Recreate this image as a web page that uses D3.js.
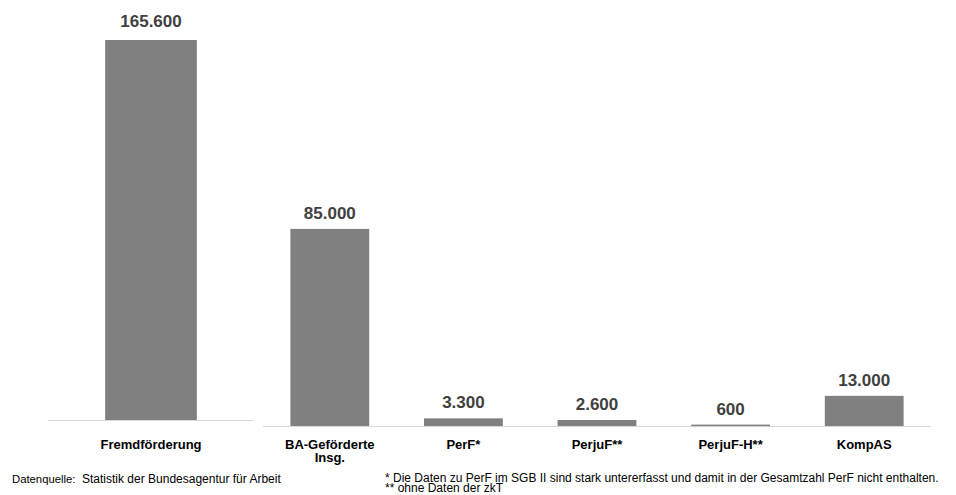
<!DOCTYPE html>
<html>
<head>
<meta charset="utf-8">
<script src="https://cdn.jsdelivr.net/npm/d3@7"></script>
<style>
  html, body { margin: 0; padding: 0; background: #fff; }
  svg { display: block; font-family: "Liberation Sans", Arial, sans-serif; }
</style>
</head>
<body>
<svg id="chart" width="956" height="495"></svg>
<script>
// Totals panel (left) and breakdown panel (right)
const totalCategories = ["Fremdförderung"];
const totalValues = [165600];

const detailCategories = ["BA-Geförderte\nInsg.", "PerF*", "PerjuF**", "PerjuF-H**", "KompAS"];
const detailValues = [85000, 3300, 2600, 600, 13000];

const sourceLabel = "Datenquelle:";
const sourceText = "Statistik der Bundesagentur für Arbeit";
const footnotes = [
  "* Die Daten zu PerF im SGB II sind stark untererfasst und damit in der Gesamtzahl PerF nicht enthalten.",
  "** ohne Daten der zkT"
];

const fmt = v => d3.format(",")(v).replace(/,/g, ".");

const svg = d3.select("#chart");
const barColor = "#808080";
const axisColor = "#d9d9d9";
const valueColor = "#404040";

function drawPanel(categories, values, x0, x1, baseline, topForMax, padding, labelGap) {
  const data = categories.map((c, i) => ({ cat: c, value: values[i] }));
  const x = d3.scaleBand().domain(categories).range([x0, x1]).paddingInner(padding).paddingOuter(padding / 2);
  const y = d3.scaleLinear().domain([0, 165600]).range([baseline, topForMax]);
  const g = svg.append("g");

  g.append("line")
    .attr("x1", x0).attr("x2", x1)
    .attr("y1", baseline + 0.5).attr("y2", baseline + 0.5)
    .attr("stroke", axisColor).attr("stroke-width", 1);

  g.selectAll("rect.bar").data(data).join("rect")
    .attr("class", "bar")
    .attr("x", d => x(d.cat))
    .attr("width", x.bandwidth())
    .attr("y", d => y(d.value))
    .attr("height", d => Math.max(1.5, baseline - y(d.value)))
    .attr("fill", barColor);

  g.selectAll("text.val").data(data).join("text")
    .attr("class", "val")
    .attr("x", d => x(d.cat) + x.bandwidth() / 2)
    .attr("y", d => y(d.value) - labelGap)
    .attr("text-anchor", "middle")
    .attr("font-size", 17)
    .attr("font-weight", "bold")
    .attr("fill", valueColor)
    .text(d => fmt(d.value));

  const labels = g.selectAll("text.cat").data(data).join("text")
    .attr("class", "cat")
    .attr("x", d => x(d.cat) + x.bandwidth() / 2)
    .attr("y", 449)
    .attr("text-anchor", "middle")
    .attr("font-size", 13)
    .attr("font-weight", "bold")
    .attr("fill", "#000");
  labels.each(function (d) {
    const lines = d.cat.split("\n");
    d3.select(this).selectAll("tspan").data(lines).join("tspan")
      .attr("x", x(d.cat) + x.bandwidth() / 2)
      .attr("dy", (l, i) => i === 0 ? 0 : 12.5)
      .text(l => l);
  });
}

drawPanel(totalCategories, totalValues, 48, 254, 420, 40, 0.555, 13);
drawPanel(detailCategories, detailValues, 263, 931, 426, 42, 0.41, 10);

// Source and footnotes
const foot = svg.append("g").attr("fill", "#000");
foot.append("text").attr("x", 12).attr("y", 483).attr("font-size", 11.3).text(sourceLabel);
foot.append("text").attr("x", 82).attr("y", 483).attr("font-size", 12).text(sourceText);
foot.selectAll("text.fn").data(footnotes).join("text")
  .attr("class", "fn")
  .attr("x", 385)
  .attr("y", (d, i) => 481.5 + i * 10)
  .attr("font-size", 12)
  .text(d => d);
</script>
</body>
</html>
